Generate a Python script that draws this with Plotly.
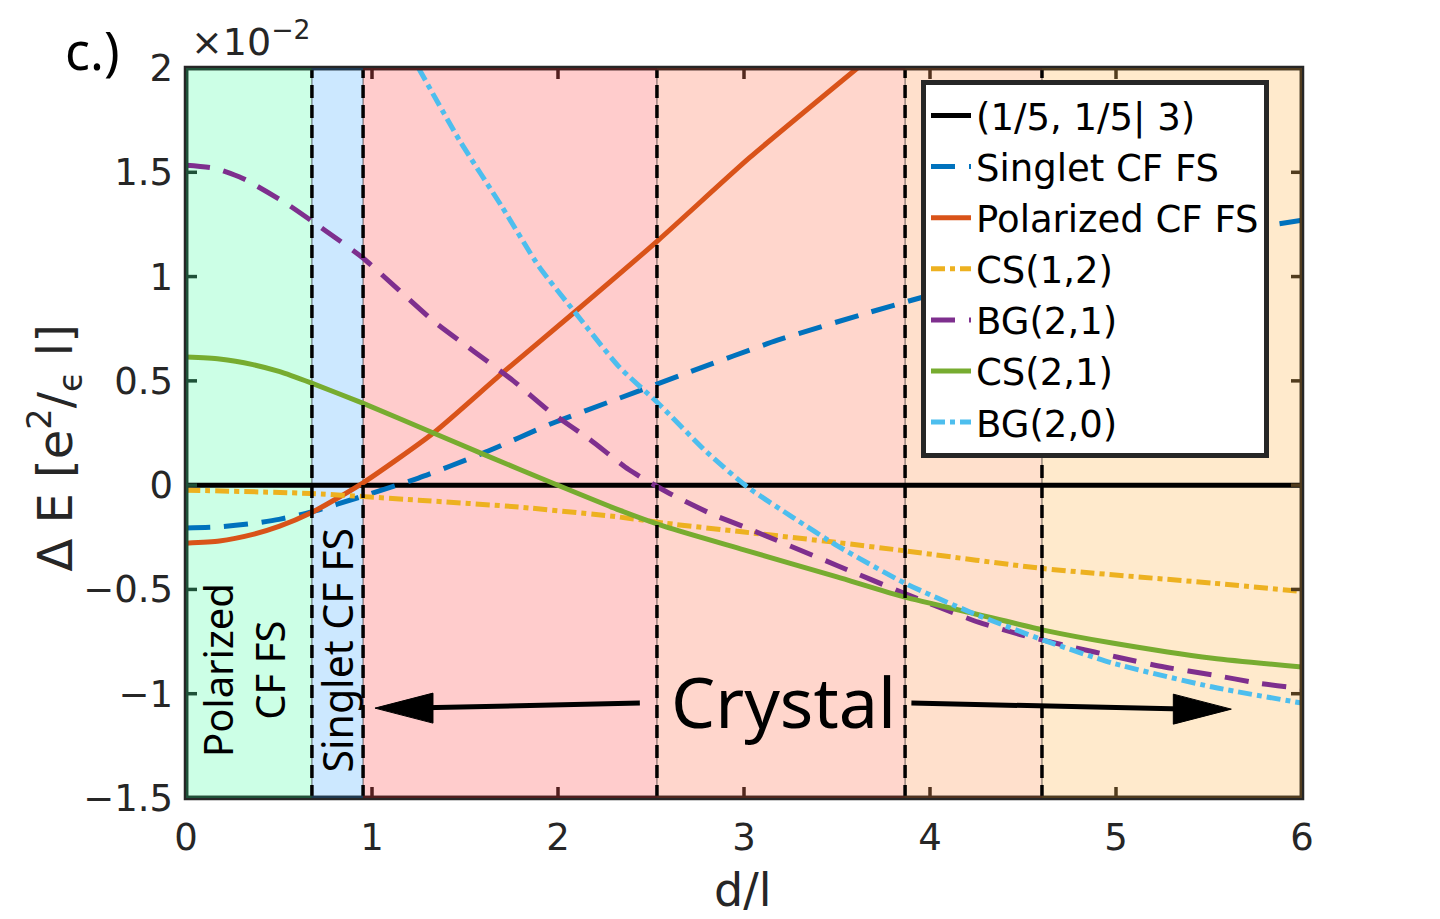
import plotly.graph_objects as go

# ---------------- data (energies in units of 1e-2 e^2/(eps l)) ----------------
d_ref = [0.0, 6.0]
e_ref = [0.0, 0.0]

d_singlet = [0, 0.18, 0.36, 0.5, 0.67, 0.95, 1.25, 1.61, 1.97, 2.33, 2.70, 3.18, 3.68, 3.94, 4.5, 5.0, 5.5, 6.0]
e_singlet = [-0.206, -0.2, -0.184, -0.164, -0.13, -0.053, 0.034, 0.158, 0.297, 0.417, 0.54, 0.695, 0.83, 0.896,
             1.03, 1.12, 1.20, 1.27]

d_polar = [0, 0.18, 0.36, 0.5, 0.67, 0.95, 1.33, 1.70, 2.09, 2.54, 3.03, 3.61]
e_polar = [-0.278, -0.268, -0.236, -0.198, -0.134, 0.01, 0.25, 0.537, 0.83, 1.175, 1.57, 2.0]

d_cs12 = [0, 0.67, 1.25, 1.79, 2.33, 2.58, 3.0, 3.5, 3.865, 4.61, 5.52, 6.0]
e_cs12 = [-0.024, -0.04, -0.072, -0.105, -0.153, -0.183, -0.225, -0.275, -0.315, -0.40, -0.47, -0.51]

d_bg21 = [0, 0.15, 0.306, 0.54, 0.75, 0.95, 1.145, 1.34, 1.55, 1.76, 1.96, 2.17, 2.38, 2.60, 2.83,
          3.0, 3.5, 3.865, 4.26, 4.5, 4.76, 5.01, 5.26, 5.52, 5.77, 6.0]
e_bg21 = [1.534, 1.52, 1.47, 1.35, 1.22, 1.09, 0.935, 0.78, 0.64, 0.50, 0.35, 0.22, 0.075, -0.04, -0.14,
          -0.2, -0.385, -0.52, -0.657, -0.72, -0.775, -0.825, -0.872, -0.91, -0.95, -0.975]

d_cs21 = [0, 0.18, 0.36, 0.5, 0.672, 0.95, 1.33, 1.61, 1.97, 2.33, 2.58, 3.0, 3.5, 3.865, 4.23, 4.61, 4.98, 5.52, 6.0]
e_cs21 = [0.614, 0.605, 0.578, 0.545, 0.49, 0.393, 0.25, 0.144, 0.01, -0.12, -0.20, -0.31, -0.44, -0.537, -0.614,
          -0.695, -0.757, -0.83, -0.872]

d_bg20 = [1.25, 1.47, 1.70, 1.90, 2.09, 2.33, 2.53, 2.80, 3.02, 3.26, 3.5, 3.865, 4.23, 4.61, 4.98, 5.52, 6.0]
e_bg20 = [2.0, 1.654, 1.333, 1.045, 0.83, 0.566, 0.40, 0.158, -0.01, -0.153, -0.29, -0.47, -0.614,
          -0.743, -0.853, -0.968, -1.045]

# phase boundaries (d/l) and region colours
bounds = [0.0, 0.677, 0.952, 2.532, 3.866, 4.602, 6.0]
region_colors = ['#CCFFE6', '#CCE8FF', '#FFCCCC', '#FFD6CC', '#FFE0CC', '#FFEACC']

x_ticks = [0, 1, 2, 3, 4, 5, 6]
y_ticks = [-1.5, -1, -0.5, 0, 0.5, 1, 1.5, 2]
y_ticktext = ['\u22121.5', '\u22121', '\u22120.5', '0', '0.5', '1', '1.5', '2']

series = [
    ('(1/5, 1/5| 3)', d_ref, e_ref, '#000000', 'solid'),
    ('Singlet CF FS', d_singlet, e_singlet, '#0072BD', '24px,14px'),
    ('Polarized CF FS', d_polar, e_polar, '#D95319', 'solid'),
    ('CS(1,2)', d_cs12, e_cs12, '#EDB120', '14px,5px,5px,5px'),
    ('BG(2,1)', d_bg21, e_bg21, '#7E2F8E', '24px,14px'),
    ('CS(2,1)', d_cs21, e_cs21, '#77AC30', 'solid'),
    ('BG(2,0)', d_bg20, e_bg20, '#4DBEEE', '14px,5px,5px,5px'),
]


def frame_color(hexc):
    r, g, b = int(hexc[1:3], 16), int(hexc[3:5], 16), int(hexc[5:7], 16)
    return 'rgb(%d,%d,%d)' % tuple(max(0, c - 174) for c in (r, g, b))


fig = go.Figure()
for name, xs, ys, col, dash in series:
    fig.add_trace(go.Scatter(x=xs, y=ys, name=name, mode='lines',
                             line=dict(color=col, width=5, dash=dash, shape='spline', smoothing=0.6)))

shapes = []
# region patches
for i, col in enumerate(region_colors):
    shapes.append(dict(type='rect', xref='x', yref='y domain', x0=bounds[i], x1=bounds[i + 1],
                       y0=0, y1=1, fillcolor=col, line=dict(width=0), layer='below'))
# thin patch edges
for b in bounds[1:-1]:
    shapes.append(dict(type='line', xref='x', yref='y domain', x0=b, x1=b, y0=0, y1=1,
                       line=dict(color='rgba(0,0,0,0.6)', width=1), layer='below'))
# dashed phase boundaries
for b in bounds[1:-1]:
    shapes.append(dict(type='line', xref='x', yref='y domain', x0=b, x1=b, y0=0, y1=1,
                       line=dict(color='black', width=3.5, dash='13px,7px'), layer='above'))
# gray outer frame
shapes.append(dict(type='rect', xref='x domain', yref='y domain', x0=0, x1=1, y0=0, y1=1,
                   line=dict(color='#262626', width=4.5), layer='above'))
# tinted inner frame
for i, col in enumerate(region_colors):
    fc = frame_color(col)
    for yy in (y_ticks[0], y_ticks[-1]):
        shapes.append(dict(type='line', xref='x', yref='y', x0=bounds[i], x1=bounds[i + 1],
                           y0=yy, y1=yy, line=dict(color=fc, width=4.5), layer='above'))
shapes.append(dict(type='line', xref='x', yref='y', x0=bounds[0], x1=bounds[0], y0=y_ticks[0], y1=y_ticks[-1],
                   line=dict(color=frame_color(region_colors[0]), width=4.5), layer='above'))
shapes.append(dict(type='line', xref='x', yref='y', x0=bounds[-1], x1=bounds[-1], y0=y_ticks[0], y1=y_ticks[-1],
                   line=dict(color=frame_color(region_colors[-1]), width=4.5), layer='above'))


def region_of(x):
    for i in range(len(bounds) - 1):
        if bounds[i] <= x < bounds[i + 1]:
            return i
    return len(bounds) - 2


# ticks (inside, tinted by region)
for t in x_ticks[1:-1]:
    fc = frame_color(region_colors[region_of(t)])
    shapes.append(dict(type='line', xref='x', yref='y', x0=t, x1=t, ysizemode='pixel',
                       yanchor=y_ticks[0], y0=0, y1=11, line=dict(color=fc, width=3.5), layer='above'))
    shapes.append(dict(type='line', xref='x', yref='y', x0=t, x1=t, ysizemode='pixel',
                       yanchor=y_ticks[-1], y0=0, y1=-11, line=dict(color=fc, width=3.5), layer='above'))
for t in y_ticks[1:-1]:
    shapes.append(dict(type='line', xref='x', yref='y', y0=t, y1=t, xsizemode='pixel',
                       xanchor=bounds[0], x0=0, x1=11,
                       line=dict(color=frame_color(region_colors[0]), width=3.5), layer='above'))
    shapes.append(dict(type='line', xref='x', yref='y', y0=t, y1=t, xsizemode='pixel',
                       xanchor=bounds[-1], x0=0, x1=-11,
                       line=dict(color=frame_color(region_colors[-1]), width=3.5), layer='above'))

# "Crystal" arrows
arrow_left = dict(tip=(1.016, -1.069), tail=(2.44, -1.045))
arrow_right = dict(tip=(5.62, -1.074), tail=(3.90, -1.045))
for arr, sgn in ((arrow_left, 1), (arrow_right, -1)):
    (tx, ty), (sx, sy) = arr['tip'], arr['tail']
    shapes.append(dict(type='line', xref='x', yref='y', x0=sx, y0=sy, x1=tx + sgn * 0.2, y1=ty,
                       line=dict(color='black', width=5), layer='above'))
    shapes.append(dict(type='path', xref='x', yref='y', xsizemode='pixel', ysizemode='pixel',
                       xanchor=tx, yanchor=ty,
                       path='M0,0 L%d,15 L%d,-15 Z' % (sgn * 58, sgn * 58),
                       fillcolor='black', line=dict(color='black', width=1), layer='above'))

annotations = [
    dict(text='Crystal', x=3.21, y=-1.035, xref='x', yref='y', showarrow=False,
         xanchor='center', yanchor='middle',
         font=dict(family='Noto Sans', size=70, color='black')),
    dict(text='Polarized<br>CF FS', x=0.306, y=-0.887, xref='x', yref='y', showarrow=False,
         xanchor='center', yanchor='middle',
         textangle=-90, font=dict(family='Noto Sans', size=40, color='black')),
    dict(text='Singlet CF FS', x=0.814, y=-0.791, xref='x', yref='y', showarrow=False,
         xanchor='center', yanchor='middle',
         textangle=-90, font=dict(family='Noto Sans', size=41, color='black')),
    dict(text='\u0394 E [e<sup>2</sup>/<sub>\u03f5</sub> l]', x=-0.1174, y=0.48, xref='paper', yref='paper',
         xanchor='center', yanchor='middle',
         showarrow=False, textangle=-90, font=dict(family='DejaVu Sans', size=48, color='#262626')),
    dict(text='d/l', x=0.4987, y=-0.126, xref='paper', yref='paper', showarrow=False,
         xanchor='center', yanchor='middle',
         font=dict(family='DejaVu Sans', size=46, color='#262626')),
    dict(text='\u00d710<sup>\u22122</sup>', x=0.003, y=1.04, xref='paper', yref='paper', xanchor='left',
         yanchor='middle',
         showarrow=False, font=dict(family='DejaVu Sans', size=38, color='#262626')),
    dict(text='c.)', x=-0.0842, y=1.0247, xref='paper', yref='paper', showarrow=False,
         xanchor='center', yanchor='middle',
         font=dict(family='Noto Sans', size=52, color='black')),
]

fig.update_layout(
    width=1440, height=919,
    margin=dict(l=186, r=138, t=68, b=121),
    paper_bgcolor='white', plot_bgcolor='white',
    shapes=shapes, annotations=annotations,
    showlegend=True,
    legend=dict(x=0.6586, y=0.9836, xanchor='left', yanchor='top', bgcolor='white',
                bordercolor='#262626', borderwidth=5, itemwidth=40,
                font=dict(family='DejaVu Sans', size=37, color='black'),
                tracegroupgap=0),
    xaxis=dict(range=[bounds[0], bounds[-1]], tickvals=x_ticks, ticktext=[str(v) for v in x_ticks],
               showgrid=False, zeroline=False, showline=False, ticks='',
               tickfont=dict(family='DejaVu Sans', size=37, color='#262626'), ticklabelstandoff=14),
    yaxis=dict(range=[y_ticks[0], y_ticks[-1]], tickvals=y_ticks, ticktext=y_ticktext,
               showgrid=False, zeroline=False, showline=False, ticks='',
               tickfont=dict(family='DejaVu Sans', size=37, color='#262626'), ticklabelstandoff=12),
)

fig.write_html('out.html')
